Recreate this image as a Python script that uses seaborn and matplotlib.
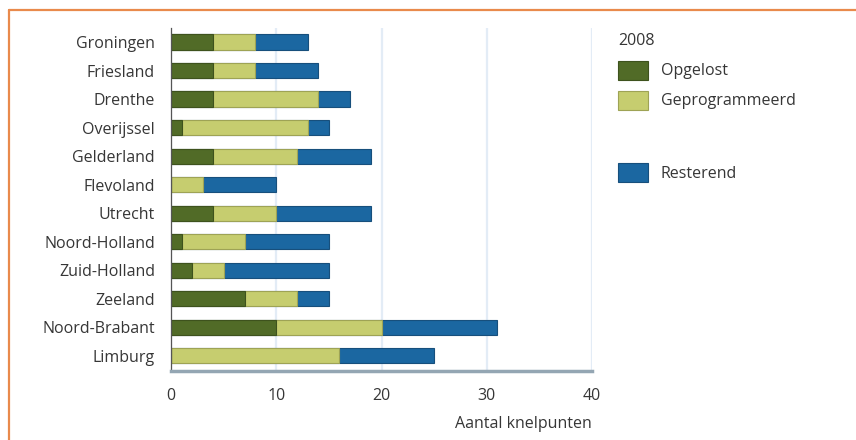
import numpy as np
import pandas as pd
import matplotlib
matplotlib.use("Agg")
import matplotlib.pyplot as plt
from matplotlib.patches import Patch
from matplotlib.lines import Line2D
from matplotlib.ticker import MultipleLocator
import seaborn as sns

# Knelpunten per provincie (2008)
provinces = ["Groningen", "Friesland", "Drenthe", "Overijssel", "Gelderland",
             "Flevoland", "Utrecht", "Noord-Holland", "Zuid-Holland", "Zeeland",
             "Noord-Brabant", "Limburg"]
opgelost = [4, 4, 4, 1, 4, 0, 4, 1, 2, 7, 10, 0]
geprogrammeerd = [4, 4, 10, 12, 8, 3, 6, 6, 3, 5, 10, 16]
resterend = [5, 6, 3, 2, 7, 7, 9, 8, 10, 3, 11, 9]
series_labels = ["Opgelost", "Geprogrammeerd", "Resterend"]
legend_title = "2008"
x_ticks = [0, 10, 20, 30, 40]
x_label = "Aantal knelpunten"

c_dark = "#516b27"
c_light = "#c6cd6f"
c_blue = "#1b67a1"
e_dark = "#3e521d"
e_light = "#9ea355"
e_blue = "#174f7c"
text_col = "#363636"
fs = 11.5

sns.set_theme(style="white")
plt.rcParams["font.family"] = ["Open Sans", "DejaVu Sans"]
plt.rcParams["font.weight"] = "medium"

df = pd.DataFrame({
    "provincie": provinces,
    "opgelost": opgelost,
    "geprogrammeerd": geprogrammeerd,
    "resterend": resterend,
})
df["cum2"] = df["opgelost"] + df["geprogrammeerd"]
df["totaal"] = df["cum2"] + df["resterend"]

fig = plt.figure(figsize=(8.56, 4.40), dpi=100)
fig.patch.set_facecolor("white")
ax = fig.add_axes([171 / 856, 1 - 371 / 440, (592 - 171) / 856, (371 - 28) / 440])

# Stacked bars: draw cumulative totals back to front
bar_w = 0.53
sns.barplot(data=df, y="provincie", x="totaal", orient="h", color=c_blue,
            saturation=1, width=bar_w, edgecolor=e_blue, linewidth=0.8, ax=ax)
sns.barplot(data=df, y="provincie", x="cum2", orient="h", color=c_light,
            saturation=1, width=bar_w, edgecolor=e_light, linewidth=0.8, ax=ax)
sns.barplot(data=df, y="provincie", x="opgelost", orient="h", color=c_dark,
            saturation=1, width=bar_w, edgecolor=e_dark, linewidth=0.8, ax=ax)

ax.set_xlim(0, 40)
ax.set_ylim(11.53, -0.49)
ax.set_xticks(x_ticks)
ax.xaxis.set_minor_locator(MultipleLocator(5))
ax.grid(axis="x", color="#e3ecf6", linewidth=1.6, zorder=0)
ax.set_axisbelow(True)

for s in ["top", "right"]:
    ax.spines[s].set_visible(False)
ax.spines["left"].set_color("#555555")
ax.spines["left"].set_linewidth(0.9)
ax.spines["bottom"].set_color("#94a6b3")
ax.spines["bottom"].set_linewidth(2.5)

ax.tick_params(axis="y", length=0, pad=11.5, labelsize=fs, labelcolor=text_col)
ax.tick_params(axis="x", which="major", direction="out", length=5, width=1,
               color="#9cc0dc", pad=7, labelsize=fs, labelcolor=text_col)
ax.tick_params(axis="x", which="minor", direction="in", length=3, width=1,
               color="#9cc0dc")
ax.set_ylabel("")
ax.set_xlabel(x_label, fontsize=fs, color=text_col, ha="right")
ax.xaxis.set_label_coords(1.0, -0.13)

# Legend: resolved / programmed block with title, remaining set apart below
leg_kw = dict(loc="upper left", frameon=False, fontsize=fs, title_fontsize=fs,
              handlelength=1.85, handleheight=1.45, handletextpad=0.8,
              labelspacing=0.7, alignment="left", borderaxespad=0)
leg1 = fig.legend([Patch(facecolor=c_dark, edgecolor=e_dark, linewidth=0.8),
                   Patch(facecolor=c_light, edgecolor=e_light, linewidth=0.8)],
                  series_labels[:2], title=legend_title,
                  bbox_to_anchor=(612 / 856, 1 - 27 / 440), **leg_kw)
leg2 = fig.legend([Patch(facecolor=c_blue, edgecolor=e_blue, linewidth=0.8)],
                  series_labels[2:],
                  bbox_to_anchor=(612 / 856, 1 - 157 / 440), **leg_kw)
for leg in (leg1, leg2):
    for t in leg.get_texts():
        t.set_color(text_col)
leg1.get_title().set_color(text_col)

# Orange frame lines (top and left)
fig.add_artist(Line2D([9 / 856, 1.0], [1 - 10 / 440, 1 - 10 / 440],
                      color="#e98a4c", linewidth=1.6, transform=fig.transFigure))
fig.add_artist(Line2D([9 / 856, 9 / 856], [0.0, 1 - 10 / 440],
                      color="#e98a4c", linewidth=1.6, transform=fig.transFigure))

fig.savefig("out.png", dpi=100, facecolor="white")
